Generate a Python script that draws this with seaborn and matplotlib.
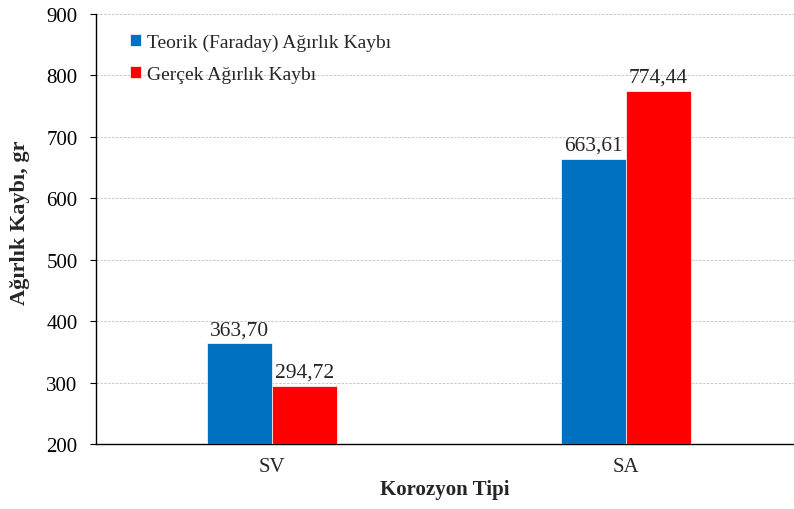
import numpy as np
import pandas as pd
import matplotlib.pyplot as plt
import seaborn as sns

categories = ["SV", "SA"]
series_names = ["Teorik (Faraday) Ağırlık Kaybı", "Gerçek Ağırlık Kaybı"]
teorik = [363.70, 663.61]
gercek = [294.72, 774.44]
colors = ["#0070C0", "#FF0000"]

df = pd.DataFrame({
    "Korozyon Tipi": categories * 2,
    "Seri": [series_names[0]] * 2 + [series_names[1]] * 2,
    "Değer": teorik + gercek,
})

sns.set_style("white")
plt.rcParams["font.family"] = ["Liberation Serif", "DejaVu Serif"]
plt.rcParams["font.size"] = 15

fig = plt.figure(figsize=(7.94, 5.10), dpi=100)
ax = fig.add_axes([96 / 794, 65 / 510, 698 / 794, 430 / 510])

sns.barplot(data=df, x="Korozyon Tipi", y="Değer", hue="Seri", hue_order=series_names,
            palette=colors, width=0.366, gap=0, saturation=1, ax=ax,
            edgecolor="white", linewidth=0.5, zorder=3)

# data labels with comma decimals
for cont in ax.containers:
    ax.bar_label(cont, labels=[f"{v:.2f}".replace(".", ",") for v in cont.datavalues],
                 padding=3, fontsize=15.5, zorder=4)

ax.set_ylim(200, 900)
ax.set_yticks(range(200, 901, 100))
ax.set_xlim(-0.497, 1.475)
ax.yaxis.grid(True, color="#c8c8c8", linestyle=(0, (2.5, 1.5)), linewidth=0.7, zorder=0)
ax.set_axisbelow(True)

sns.despine(ax=ax, top=True, right=True)
ax.spines["left"].set_color("black")
ax.spines["bottom"].set_color("black")
ax.spines["left"].set_linewidth(1.0)
ax.spines["bottom"].set_linewidth(1.0)
ax.tick_params(axis="y", which="both", left=True, length=4.3, width=0.8, direction="out",
               labelsize=15, pad=9, colors="black")
ax.tick_params(axis="x", bottom=False, labelsize=15, pad=6)

ax.set_xlabel("Korozyon Tipi", fontweight="bold", fontsize=15, labelpad=2)
ax.set_ylabel("Ağırlık Kaybı, gr", fontweight="bold", fontsize=16)
ax.yaxis.set_label_coords(-0.094, 0.516)

leg = ax.legend(loc="upper left", bbox_to_anchor=(0.024, 0.995), frameon=False,
                handlelength=0.55, handleheight=0.55, handletextpad=0.3,
                labelspacing=0.75, fontsize=14, title=None)

fig.savefig("out.png", dpi=100)
